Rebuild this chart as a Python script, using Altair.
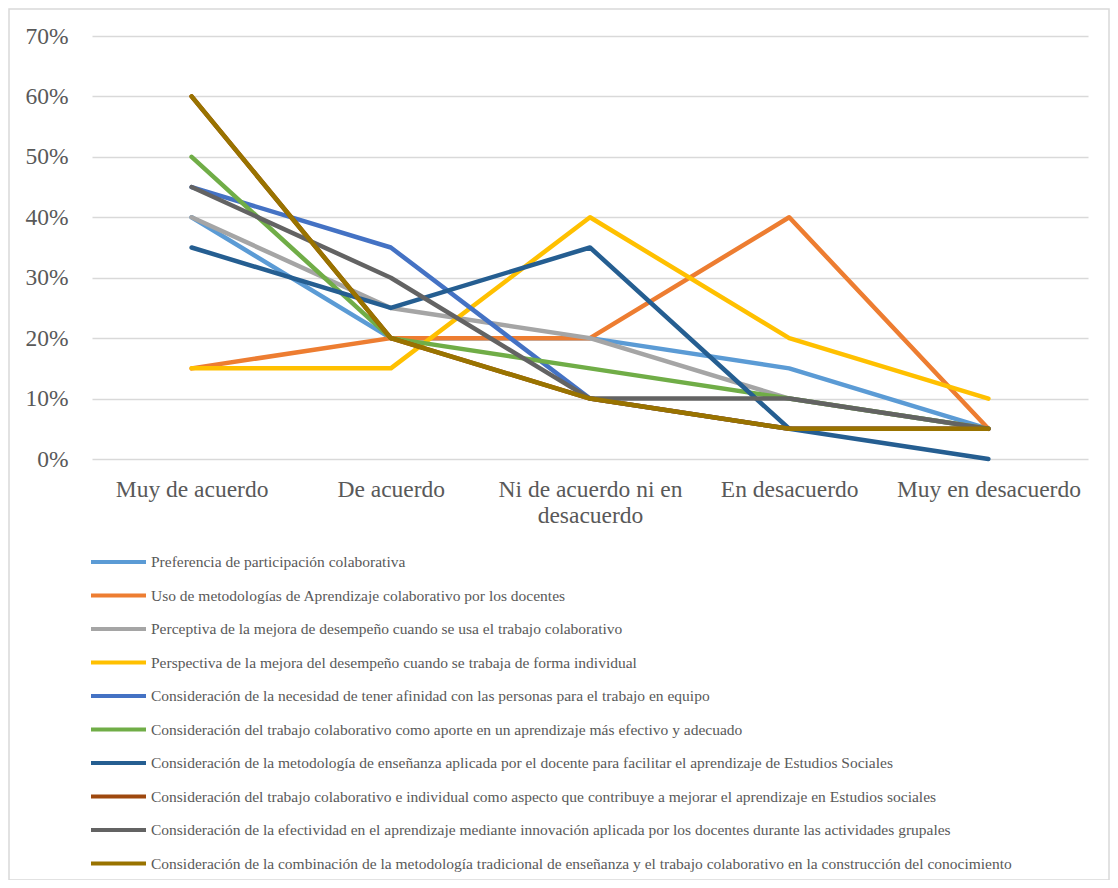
import altair as alt
import pandas as pd

categories = ["Muy de acuerdo", "De acuerdo", "Ni de acuerdo ni en desacuerdo",
              "En desacuerdo", "Muy en desacuerdo"]

series_names = [
    "Preferencia de participación colaborativa",
    "Uso de metodologías de Aprendizaje colaborativo por los docentes",
    "Perceptiva de la mejora de desempeño cuando se usa el trabajo colaborativo",
    "Perspectiva de la mejora del desempeño cuando se trabaja de forma individual",
    "Consideración de la necesidad de tener afinidad con las personas para el trabajo en equipo",
    "Consideración del trabajo colaborativo como aporte en un aprendizaje más efectivo y adecuado",
    "Consideración de la metodología de enseñanza aplicada por el docente para facilitar el aprendizaje de Estudios Sociales",
    "Consideración del trabajo colaborativo e individual como aspecto que contribuye a mejorar el aprendizaje en Estudios sociales",
    "Consideración de la efectividad en el aprendizaje mediante innovación aplicada por los docentes durante las actividades grupales",
    "Consideración de la combinación de la metodología tradicional de enseñanza y el trabajo colaborativo en la construcción del conocimiento",
]

s1 = [0.40, 0.20, 0.20, 0.15, 0.05]
s2 = [0.15, 0.20, 0.20, 0.40, 0.05]
s3 = [0.40, 0.25, 0.20, 0.10, 0.05]
s4 = [0.15, 0.15, 0.40, 0.20, 0.10]
s5 = [0.45, 0.35, 0.10, 0.05, 0.05]
s6 = [0.50, 0.20, 0.15, 0.10, 0.05]
s7 = [0.35, 0.25, 0.35, 0.05, 0.00]
s8 = [0.60, 0.20, 0.10, 0.05, 0.05]
s9 = [0.45, 0.30, 0.10, 0.10, 0.05]
s10 = [0.60, 0.20, 0.10, 0.05, 0.05]

series_values = [s1, s2, s3, s4, s5, s6, s7, s8, s9, s10]

colors = ["#5B9BD5", "#ED7D31", "#A5A5A5", "#FFC000", "#4472C4",
          "#70AD47", "#255E91", "#9E480E", "#636363", "#997300"]

rows = []
for i, (name, vals) in enumerate(zip(series_names, series_values)):
    for c, v in zip(categories, vals):
        rows.append({"serie": name, "orden": i, "categoria": c, "valor": v})
df = pd.DataFrame(rows)

FONT = "Liberation Serif"
TXT = "#595959"

lines = alt.Chart(df).mark_line(strokeWidth=4.5, strokeCap="round", strokeJoin="round").encode(
    x=alt.X("categoria:N", sort=categories, title=None,
            scale=alt.Scale(type="point", padding=0.5),
            axis=alt.Axis(labelAngle=0, labelFontSize=23.5, labelColor=TXT, labelFont=FONT,
                          ticks=False, domain=False, grid=False, labelPadding=18,
                          labelLineHeight=26, labelLimit=300,
                          labelExpr="datum.label == 'Ni de acuerdo ni en desacuerdo' ? ['Ni de acuerdo ni en', 'desacuerdo'] : datum.label")),
    y=alt.Y("valor:Q", title=None,
            scale=alt.Scale(domain=[0, 0.7], nice=False),
            axis=alt.Axis(format=".0%", values=[0, 0.1, 0.2, 0.3, 0.4, 0.5, 0.6, 0.7],
                          labelFontSize=23.5, labelColor=TXT, labelFont=FONT,
                          ticks=False, domain=False, labelPadding=24,
                          gridColor="#D9D9D9", gridWidth=1.5)),
    color=alt.Color("serie:N", sort=series_names,
                    scale=alt.Scale(domain=series_names, range=colors),
                    legend=alt.Legend(title=None, orient="none", legendX=-3, legendY=516,
                                      direction="vertical", columns=1,
                                      symbolType="stroke", symbolSize=3025,
                                      symbolStrokeWidth=4, labelFont=FONT,
                                      labelFontSize=15.5, labelColor=TXT,
                                      clipHeight=20,
                                      labelLimit=1000, labelOffset=3, rowPadding=13.5)),
    order=alt.Order("orden:Q"),
    detail="serie:N",
)

frame = alt.Chart(pd.DataFrame({"k": [0]})).mark_rect(
    fill=None, stroke="#D9D9D9", strokeWidth=1.5
).encode(x=alt.value(-83), x2=alt.value(1017), y=alt.value(-27), y2=alt.value(844))

chart = alt.layer(frame, lines).properties(
    width=996, height=423,
    background="white",
    autosize=alt.AutoSizeParams(type="none"),
    padding={"left": 84, "top": 28, "right": 22, "bottom": 421},
).configure_view(stroke=None)

chart.save("out.html", embed_options={"renderer": "svg", "actions": False})
